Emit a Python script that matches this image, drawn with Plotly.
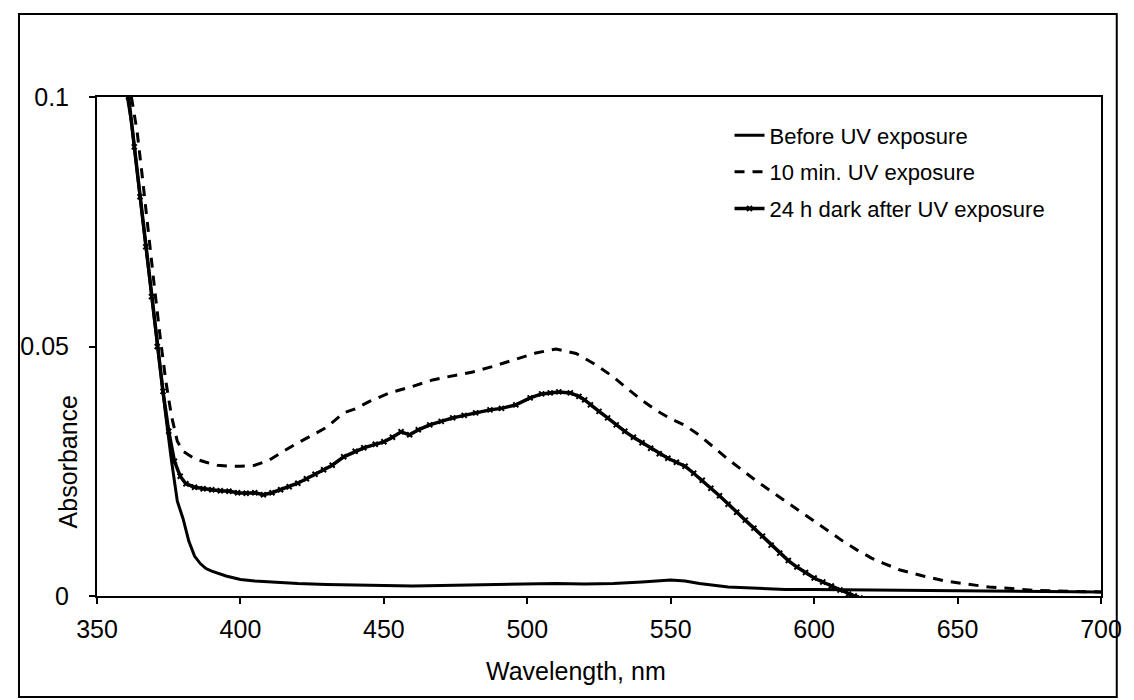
import plotly.graph_objects as go

# Before UV exposure
before_wl = [360, 362, 365, 368, 370, 372, 374, 376, 378, 380, 382, 384, 386, 388, 390,
             395, 400, 405, 410, 420, 430, 440, 450, 460, 470, 480, 490, 500, 510, 520,
             530, 540, 550, 555, 560, 570, 580, 590, 600, 610, 620, 640, 660, 680, 700]
before_abs = [0.102, 0.095, 0.08, 0.065, 0.055, 0.045, 0.036, 0.027, 0.019, 0.0155, 0.011,
              0.008, 0.0065, 0.0055, 0.005, 0.004, 0.0033, 0.003, 0.0028, 0.0025, 0.0023,
              0.0022, 0.0022, 0.002, 0.0021, 0.0022, 0.0022, 0.0024, 0.0025, 0.0024, 0.0025,
              0.0028, 0.0032, 0.003, 0.0025, 0.0018, 0.0015, 0.0013, 0.0013, 0.0012, 0.0012,
              0.0011, 0.001, 0.0009, 0.0008]

# 10 min. UV exposure
uv10_wl = [362, 364, 366, 368, 370, 372, 374, 376, 378, 380, 384, 388, 392, 396, 400, 405,
           410, 415, 420, 425, 430, 436, 440, 445, 452, 460, 467, 472, 481, 488, 495, 503,
           510, 517, 524, 530, 535, 540, 545, 550, 555, 560, 565, 570, 575, 580, 585, 590,
           595, 600, 605, 610, 615, 620, 624, 630, 638, 645, 653, 661, 669, 677, 685, 692, 700]
uv10_abs = [0.1, 0.093, 0.083, 0.072, 0.062, 0.052, 0.043, 0.036, 0.031, 0.029, 0.0275,
            0.0268, 0.0262, 0.026, 0.026, 0.0262, 0.0272, 0.029, 0.0307, 0.0322, 0.0338,
            0.0367, 0.0375, 0.039, 0.0407, 0.042, 0.0433, 0.0439, 0.0449, 0.046, 0.0472,
            0.0487, 0.0495, 0.0486, 0.0463, 0.0439, 0.0415, 0.0392, 0.0372, 0.0355, 0.0342,
            0.0322, 0.0298, 0.0274, 0.0252, 0.023, 0.021, 0.019, 0.017, 0.015, 0.013,
            0.011, 0.0092, 0.0076, 0.0066, 0.0052, 0.004, 0.0031, 0.0024, 0.0018, 0.0015,
            0.0011, 0.001, 0.0009, 0.0008]

# 24 h dark after UV exposure
dark_wl = [361, 363, 365, 367, 369, 371, 373, 375, 377, 379, 381, 384, 387, 390, 393, 396,
           399, 402, 405, 408, 411, 414, 417, 420, 423, 426, 429, 432, 436, 440, 443, 447,
           450, 453, 456, 459, 462, 466, 470, 474, 478, 482, 487, 491, 496, 501, 505, 508,
           511, 515, 518, 520, 522, 525, 528, 531, 534, 537, 540, 543, 546, 549, 552, 555,
           558, 561, 564, 567, 570, 573, 576, 579, 582, 585, 588, 591, 594, 597, 600, 603,
           606, 609, 612, 614, 616]
dark_abs = [0.1, 0.09, 0.08, 0.07, 0.06, 0.05, 0.041, 0.033, 0.027, 0.024, 0.0225, 0.0218,
            0.0215, 0.0213, 0.0211, 0.021, 0.0207, 0.0206, 0.0207, 0.0203, 0.0207, 0.0213,
            0.0219, 0.0226, 0.0235, 0.0244, 0.0253, 0.0262, 0.0279, 0.029, 0.0297, 0.0304,
            0.0309, 0.0318, 0.0329, 0.0323, 0.0333, 0.0343, 0.035, 0.0357, 0.0362, 0.0367,
            0.0373, 0.0376, 0.0383, 0.0397, 0.0405, 0.0407, 0.0409, 0.0407, 0.04, 0.0393,
            0.0383, 0.037, 0.0357, 0.0343, 0.033, 0.0318, 0.0307, 0.0296, 0.0285, 0.0276,
            0.0268, 0.026, 0.0246, 0.0232, 0.0216, 0.0201, 0.0184, 0.0168, 0.0152, 0.0136,
            0.012, 0.0102, 0.0086, 0.0071, 0.0058, 0.0047, 0.0036, 0.0028, 0.002, 0.0012,
            0.0004, 0.0, -0.0004]

x_ticks = [350, 400, 450, 500, 550, 600, 650, 700]
y_ticks = [0, 0.05, 0.1]
y_tick_text = ["0", "0.05", "0.1"]

FONT = "Arial, Liberation Sans, sans-serif"

fig = go.Figure()
fig.add_trace(go.Scatter(
    x=before_wl, y=before_abs, mode="lines", name="Before UV exposure",
    legendgroup="a", line=dict(color="black", width=3),
))
fig.add_trace(go.Scatter(
    x=uv10_wl, y=uv10_abs, mode="lines", name="10 min. UV exposure",
    legendgroup="b", line=dict(color="black", width=3, dash="10px,8px"),
))
fig.add_trace(go.Scatter(
    x=dark_wl, y=dark_abs, mode="lines+markers", name="24 h dark after UV exposure",
    legendgroup="c", line=dict(color="black", width=3.5),
    marker=dict(symbol="x-thin-open", size=5, color="black", line=dict(color="black", width=2)),
))

axis_common = dict(
    showgrid=False, zeroline=False, showline=True, linecolor="black", linewidth=2,
    mirror=True, ticks="outside", ticklen=6, tickwidth=1.5, tickcolor="black",
    tickfont=dict(family=FONT, size=25, color="black"),
)
fig.update_xaxes(range=[350, 700], tickvals=x_ticks, ticklabelstandoff=4, **axis_common)
fig.update_yaxes(range=[0, 0.1], tickvals=y_ticks, ticktext=y_tick_text,
                 ticklabelstandoff=15, **axis_common)

# page body has an 8px margin, so the figure is 8px smaller and shifted up/left
fig.update_layout(
    width=1126, height=692,
    margin=dict(l=81, r=28, t=89, b=104),
    paper_bgcolor="white", plot_bgcolor="white",
    font=dict(family=FONT, size=22, color="black"),
    legend=dict(x=0.63, y=0.965, xanchor="left", yanchor="top", bgcolor="rgba(0,0,0,0)",
                tracegroupgap=5, traceorder="grouped", font=dict(size=22)),
    annotations=[
        dict(text="Wavelength, nm", x=0.477, y=-0.150, xref="paper", yref="paper",
             xanchor="center", yanchor="middle", showarrow=False, font=dict(size=25)),
        dict(text="Absorbance", x=-0.0285, y=0.2685, xref="paper", yref="paper",
             xanchor="center", yanchor="middle", showarrow=False, textangle=-90,
             font=dict(size=25)),
    ],
    # chart-area frame around the whole figure
    shapes=[
        dict(type="rect", xref="paper", yref="paper", x0=-0.0777, x1=1.0157,
             y0=-0.2024, y1=1.1663, line=dict(color="black", width=2)),
    ],
)

fig.write_html("out.html")
